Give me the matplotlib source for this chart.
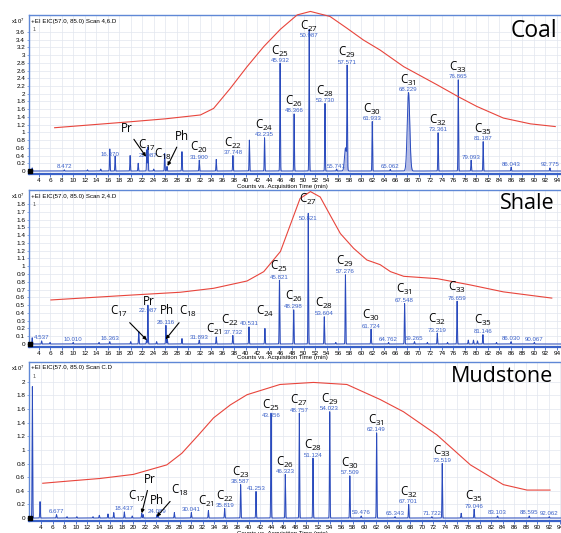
import numpy as np
import matplotlib
matplotlib.use("Agg")
import matplotlib.pyplot as plt

plt.rcParams['font.family'] = ['Liberation Sans', 'DejaVu Sans']
plt.rcParams['mathtext.fontset'] = 'custom'
plt.rcParams['mathtext.rm'] = 'Open Sans'

# ---------------- data ----------------
coal_rt = [2.9, 8.472, 12.5, 14.8, 16.370, 17.3, 19.9, 21.3, 22.80, 22.987, 24.0, 25.9, 26.3, 28.9,
           31.900, 34.85, 37.748, 40.6, 43.235, 45.932, 48.366, 50.987, 53.730, 55.741, 57.3, 57.571,
           61.933, 65.062, 68.229, 73.361, 76.865, 79.093, 81.187, 86.043, 92.775]
coal_h = [0.08, 0.03, 0.03, 0.05, 0.57, 0.39, 0.40, 0.20, 0.55, 0.62, 0.05, 0.45, 0.12, 0.50,
          0.28, 0.30, 0.40, 0.80, 0.86, 2.79, 1.48, 3.67, 1.75, 0.05, 0.60, 2.55,
          1.28, 0.04, 2.03, 0.99, 2.36, 0.28, 0.76, 0.10, 0.08]
coal_broad = {57.3: 0.18, 68.229: 0.22}
coal_ucm_t = [6.8, 20.4, 26.0, 32.1, 34.4, 37.3, 40.2, 43.1, 46.0, 48.9, 51.2, 54.6, 57.5, 60.4,
              63.3, 67.4, 73.2, 76.9, 80.1, 84.7, 89.4, 93.7]
coal_ucm_v = [1.12, 1.28, 1.35, 1.45, 1.62, 2.14, 2.70, 3.22, 3.67, 4.04, 4.13, 4.00, 3.70, 3.39,
              3.13, 2.70, 2.23, 1.92, 1.67, 1.37, 1.22, 1.15]
coal_rt_labels = [8.472, 16.370, 22.987, 31.900, 37.748, 43.235, 45.932, 48.366, 50.987, 53.730,
                  55.741, 57.571, 61.933, 65.062, 68.229, 73.361, 76.865, 79.093, 81.187, 86.043, 92.775]
coal_compounds = [("20", 31.900), ("22", 37.748), ("24", 43.235), ("25", 45.932), ("26", 48.366),
                  ("27", 50.987), ("28", 53.730), ("29", 57.571), ("30", 61.933), ("31", 68.229),
                  ("32", 73.361), ("33", 76.865), ("35", 81.187)]
coal_yticks = [round(0.2 * i, 1) for i in range(19)]

shale_rt = [2.9, 4.537, 6.0, 10.010, 14.5, 16.363, 20.0, 21.4, 22.75, 22.987, 24.5, 26.116, 26.35,
            28.9, 31.893, 34.85, 37.732, 40.531, 43.3, 45.821, 48.298, 50.821, 53.604, 55.6, 57.276,
            61.724, 64.762, 67.548, 69.265, 71.5, 73.219, 75.0, 76.659, 78.6, 79.5, 80.2, 81.146,
            83.5, 86.030, 90.067]
shale_h = [0.08, 0.04, 0.02, 0.02, 0.02, 0.03, 0.03, 0.16, 0.06, 0.50, 0.03, 0.24, 0.06,
           0.07, 0.05, 0.09, 0.11, 0.22, 0.20, 0.82, 0.44, 1.68, 0.35, 0.02, 0.89,
           0.19, 0.02, 0.52, 0.03, 0.02, 0.14, 0.02, 0.55, 0.05, 0.05, 0.04, 0.12,
           0.02, 0.03, 0.02]
shale_broad = {}
shale_ucm_t = [6.15, 20.4, 28.6, 34.4, 40.2, 43.1, 46.0, 47.7, 49.4, 51.2, 52.9, 54.6, 56.4, 58.7,
               61.0, 63.3, 65.1, 67.4, 73.2, 78.9, 84.7, 93.1]
shale_ucm_v = [0.566, 0.63, 0.665, 0.716, 0.81, 0.93, 1.19, 1.53, 1.87, 1.96, 1.89, 1.66, 1.42, 1.23,
               1.08, 1.02, 0.93, 0.87, 0.84, 0.76, 0.67, 0.59]
shale_rt_labels = [4.537, 10.010, 16.363, 22.987, 26.116, 31.893, 37.732, 40.531, 45.821, 48.298,
                   50.821, 53.604, 57.276, 61.724, 64.762, 67.548, 69.265, 73.219, 76.659, 81.146,
                   86.030, 90.067]
shale_compounds = [("25", 45.821), ("26", 48.298), ("27", 50.821), ("28", 53.604), ("29", 57.276),
                   ("30", 61.724), ("31", 67.548), ("32", 73.219), ("33", 76.659), ("35", 81.146)]
shale_yticks = [round(0.1 * i, 1) for i in range(19)]

mud_rt = [2.5, 3.83, 6.677, 8.5, 10.2, 13.0, 14.1, 15.6, 16.6, 18.437, 19.8, 21.45, 21.7, 24.089,
          24.3, 27.1, 30.041, 33.0, 35.819, 38.587, 41.253, 43.856, 46.323, 48.757, 51.124, 54.023,
          57.509, 59.476, 62.149, 65.343, 67.701, 71.722, 73.519, 76.8, 79.046, 83.103, 88.595, 92.062]
mud_h = [1.93, 0.24, 0.05, 0.02, 0.02, 0.02, 0.04, 0.06, 0.08, 0.09, 0.03, 0.07, 0.05, 0.05,
         0.04, 0.08, 0.08, 0.11, 0.14, 0.49, 0.39, 1.54, 0.64, 1.54, 0.88, 1.56,
         0.62, 0.03, 1.25, 0.02, 0.20, 0.02, 0.80, 0.07, 0.13, 0.03, 0.03, 0.02]
mud_broad = {}
mud_ucm_t = [4.3, 8.45, 14.2, 20.0, 25.8, 28.4, 31.3, 33.9, 36.8, 39.7, 45.4, 51.2, 57.0, 62.75,
             66.8, 72.6, 78.4, 84.1, 88.2, 92.2]
mud_ucm_v = [0.51, 0.54, 0.58, 0.64, 0.78, 0.95, 1.22, 1.47, 1.66, 1.81, 1.96, 1.99, 1.96, 1.74,
             1.56, 1.22, 0.78, 0.49, 0.41, 0.41]
mud_rt_labels = [6.677, 18.437, 24.089, 30.041, 35.819, 38.587, 41.253, 43.856, 46.323, 48.757,
                 51.124, 54.023, 57.509, 59.476, 62.149, 65.343, 67.701, 71.722, 73.519, 79.046,
                 83.103, 88.595, 92.062]
mud_compounds = [("22", 35.819), ("23", 38.587), ("25", 43.856), ("26", 46.323), ("27", 48.757),
                 ("28", 51.124), ("29", 54.023), ("30", 57.509), ("31", 62.149), ("32", 67.701),
                 ("33", 73.519), ("35", 79.046)]
mud_yticks = [round(0.2 * i, 1) for i in range(11)]

x_ticks = list(range(4, 95, 2))

# ---------------- styling / layout ----------------
W, H = 561, 533
LINE = '#2a4bbd'
FILL = '#b3bbe6'
RED = '#e8453c'
LBL = '#3a60c8'
FRAME = '#5f88d6'
AXIS = '#3a62c8'
GRID = '#e2e6ee'
CFS = 8.3

fig = plt.figure(figsize=(W / 100, H / 100), dpi=100)


def box(left, top, right, bottom):
    return [left / W, 1 - bottom / H, (right - left) / W, (bottom - top) / H]


def comp_text(num):
    return r'C$_{\mathregular{' + num + '}}$'


def panel(rect, xlim, ylim, yticks, rt, h, broad, ucm_t, ucm_v, rt_labels, comps, gap,
          overrides, fixed, arrows, header, name, name_xy, name_fs, xlabel_y):
    ax = fig.add_axes(rect)
    ax.set_xlim(*xlim)
    ax.set_ylim(*ylim)
    t = np.arange(xlim[0], xlim[1], 0.004)
    sig = np.zeros_like(t)
    for r, hh in zip(rt, h):
        w = broad.get(r, 0.05)
        sig += hh * np.exp(-0.5 * ((t - r) / w) ** 2)
    ax.fill_between(t, 0, sig, color=FILL, lw=0, zorder=2)
    ax.plot(t, sig, color=LINE, lw=0.7, zorder=3)
    ax.plot(ucm_t, ucm_v, color=RED, lw=0.8, clip_on=False, zorder=4)
    ax.plot([xlim[0] + 0.15], [0], marker='s', ms=2.5, color='black', zorder=5, clip_on=False)

    for r in rt_labels:
        y0 = np.interp(r, t, sig)
        dy = overrides.get(r, (3, None))[0]
        ax.annotate(f"{r:.3f}", (r, y0), xytext=(0, dy), textcoords='offset pixels',
                    ha='center', va='center', fontsize=4.4, color=LBL, zorder=6)
    for num, r in comps:
        y0 = np.interp(r, t, sig)
        ov = overrides.get(r, (3, None))
        cy = ov[1] if ov[1] is not None else ov[0] + gap
        ax.annotate(comp_text(num), (r, y0), xytext=(0, cy - 4.2), textcoords='offset pixels',
                    ha='center', va='baseline', fontsize=CFS, color='black', zorder=7,
                    family='Open Sans')
    for txt, tx, ty in fixed:
        ax.text(tx, ty, txt, ha='center', va='center', fontsize=CFS, color='black', zorder=7,
                family='Open Sans')
    for txt, tx, ty, hx, hy in arrows:
        ax.annotate(txt, xy=(hx, hy), xytext=(tx, ty), ha='center', va='center',
                    fontsize=CFS, color='black', zorder=7, family='Open Sans',
                    arrowprops=dict(arrowstyle='-|>', color='black', lw=0.8,
                                    mutation_scale=5, shrinkA=1, shrinkB=0))

    ax.set_xticks(x_ticks)
    ax.set_xticklabels([str(v) for v in x_ticks])
    ax.set_yticks(yticks)
    ax.set_yticklabels([f"{v:g}" for v in yticks])
    ax.tick_params(axis='x', length=2, width=0.6, color=AXIS, pad=1.2, labelsize=4.6)
    ax.tick_params(axis='y', length=1.5, width=0.5, color=FRAME, pad=1.5, labelsize=4.6)
    ax.grid(True, color=GRID, lw=0.5)
    ax.set_axisbelow(True)
    ax.spines['right'].set_visible(False)
    for s in ('left', 'top'):
        ax.spines[s].set_color(FRAME)
        ax.spines[s].set_linewidth(1.0)
    ax.spines['bottom'].set_color(AXIS)
    ax.spines['bottom'].set_linewidth(1.6)

    ax.annotate(header, (0, 1), xycoords='axes fraction', xytext=(2, -6),
                textcoords='offset pixels', ha='left', va='center', fontsize=4.4)
    ax.annotate('1', (0, 1), xycoords='axes fraction', xytext=(3, -14),
                textcoords='offset pixels', ha='left', va='center', fontsize=4.0, color='#555555')
    ax.annotate(r'x10$^{7}$', (0, 1), xycoords='axes fraction', xytext=(-18, -6),
                textcoords='offset pixels', ha='left', va='center', fontsize=4.2)
    fig.text(name_xy[0] / W, 1 - name_xy[1] / H, name, ha='center', va='center',
             fontsize=name_fs, family='Open Sans', zorder=10)
    fig.text(282 / W, 1 - xlabel_y / H, 'Counts vs. Acquisition Time (min)',
             ha='center', va='center', fontsize=4.4)
    return ax


panel(box(29.3, 15.3, 561, 174), (2.40, 94.7), (-0.078, 4.03), coal_yticks,
      coal_rt, coal_h, coal_broad, coal_ucm_t, coal_ucm_v, coal_rt_labels, coal_compounds, 10,
      {50.987: (-6, 4), 16.370: (-6, None), 22.987: (-8, None)},
      [(comp_text('17'), 22.8, 0.67), (comp_text('18'), 25.7, 0.44)],
      [('Pr', 19.3, 1.09, 22.66, 0.37), ('Ph', 28.9, 0.89, 26.4, 0.13)],
      '+EI EIC(57.0, 85.0) Scan 4,6.D', 'Coal', (534, 31), 16.5, 186)

panel(box(29.3, 190, 561, 347), (2.40, 94.7), (-0.039, 1.98), shale_yticks,
      shale_rt, shale_h, shale_broad, shale_ucm_t, shale_ucm_v, shale_rt_labels, shale_compounds, 11.5,
      {50.821: (-5, 15), 22.987: (-5, None)},
      [('Pr', 23.1, 0.55), ('Ph', 26.3, 0.43), (comp_text('21'), 34.6, 0.19),
       (comp_text('22'), 37.25, 0.30), (comp_text('24'), 43.3, 0.415)],
      [(comp_text('17'), 17.9, 0.42, 22.8, 0.05), (comp_text('18'), 30.0, 0.42, 26.08, 0.06)],
      '+EI EIC(57.0, 85.0) Scan 2,4.D', 'Shale', (527, 203), 15.5, 358)

panel(box(29.3, 362, 561, 521), (1.97, 94.1), (-0.044, 2.29), mud_yticks,
      mud_rt, mud_h, mud_broad, mud_ucm_t, mud_ucm_v, mud_rt_labels, mud_compounds, 10,
      {43.856: (-2, 8)},
      [(comp_text('17'), 20.6, 0.31), ('Ph', 24.05, 0.26), (comp_text('21'), 32.7, 0.24)],
      [('Pr', 22.9, 0.56, 21.45, 0.07), (comp_text('18'), 28.1, 0.41, 24.05, 0.02)],
      '+EI EIC(57.0, 85.0) Scan C.D', 'Mudstone', (502, 376), 15.5, 533)

fig.savefig('out.png', dpi=100)
